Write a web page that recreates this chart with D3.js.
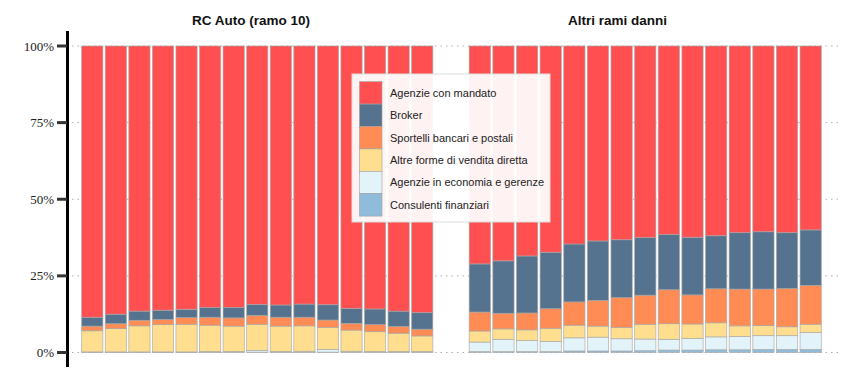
<!DOCTYPE html>
<html>
<head>
<meta charset="utf-8">
<script src="https://cdn.jsdelivr.net/npm/d3@7"></script>
<style>
  html, body { margin: 0; padding: 0; background: #fff; }
  svg { display: block; }
  .ylab { font-family: "Liberation Serif", "DejaVu Serif", serif; }
</style>
</head>
<body>
<div id="chart"></div>
<script>
// ---- Data ----
const categories = ["1","2","3","4","5","6","7","8","9","10","11","12","13","14","15"];
const seriesNames = [
  "Consulenti finanziari",
  "Agenzie in economia e gerenze",
  "Altre forme di vendita diretta",
  "Sportelli bancari e postali",
  "Broker",
  "Agenzie con mandato"
];
const seriesColors = ["#8fbcdb", "#e2f3f9", "#ffdf8f", "#ff8c55", "#55728f", "#ff4f51"];
const panelTitles = ["RC Auto (ramo 10)", "Altri rami danni"];

// RC Auto (ramo 10) — percentages per series, bottom to top
const rcConsulenti = [0.1,0.1,0.1,0.1,0.1,0.1,0.1,0.1,0.1,0.1,0.1,0.1,0.1,0.1,0.1];
const rcEconomia   = [0.1,0.1,0.1,0.1,0.1,0.2,0.2,0.6,0.2,0.3,0.9,0.3,0.2,0.2,0.2];
const rcAltre      = [6.9,7.6,8.5,8.9,9.0,8.6,8.3,8.5,8.3,8.3,7.2,6.9,6.5,6.0,5.1];
const rcSportelli  = [1.5,1.6,1.8,1.7,2.2,2.6,2.7,2.9,2.9,2.8,2.4,2.2,2.3,2.2,2.2];
const rcBroker     = [2.9,3.1,3.0,3.0,2.7,3.2,3.4,3.6,4.0,4.3,5.0,4.9,5.1,5.0,5.4];
const rcMandato    = [88.5,87.5,86.5,86.2,85.9,85.3,85.3,84.3,84.5,84.2,84.4,85.6,85.8,86.5,87.0];

// Altri rami danni
const arConsulenti = [0.3,0.3,0.3,0.3,0.5,0.5,0.5,0.6,0.8,0.8,0.9,0.9,1.0,1.0,1.0];
const arEconomia   = [3.1,4.0,3.6,3.3,4.3,4.5,4.0,3.8,3.5,3.8,4.2,4.3,4.5,4.5,5.5];
const arAltre      = [3.6,3.4,3.5,4.3,4.1,3.6,3.7,4.8,5.1,4.7,4.6,3.5,3.3,2.9,2.7];
const arSportelli  = [6.2,5.1,5.5,6.4,7.6,8.4,9.7,9.5,11.1,9.5,11.1,12.0,11.9,12.5,12.7];
const arBroker     = [15.7,17.1,18.6,18.4,18.9,19.4,18.9,18.8,18.0,18.8,17.3,18.4,18.7,18.2,18.1];
const arMandato    = [71.1,70.1,68.5,67.3,64.6,63.6,63.2,62.5,61.5,62.4,61.9,60.9,60.6,60.9,60.0];

const yTicks = [0, 25, 50, 75, 100];

// ---- Build tables ----
function buildRows(cols) {
  return categories.map((c, i) => {
    const row = { cat: c };
    seriesNames.forEach((s, k) => row[s] = cols[k][i]);
    return row;
  });
}
const panels = [
  { title: panelTitles[0], rows: buildRows([rcConsulenti, rcEconomia, rcAltre, rcSportelli, rcBroker, rcMandato]),
    range: [80.5, 434], titleX: 251 },
  { title: panelTitles[1], rows: buildRows([arConsulenti, arEconomia, arAltre, arSportelli, arBroker, arMandato]),
    range: [468, 822.5], titleX: 617.5 }
];

// ---- Layout ----
const W = 843, H = 375;
const svg = d3.select("#chart").append("svg").attr("width", W).attr("height", H);

const y = d3.scaleLinear().domain([0, 100]).range([352.5, 46]);
const color = d3.scaleOrdinal().domain(seriesNames).range(seriesColors);
const stack = d3.stack().keys(seriesNames);

// gridlines
svg.append("g").selectAll("line").data(yTicks).join("line")
  .attr("x1", 72).attr("x2", 838)
  .attr("y1", d => y(d)).attr("y2", d => y(d))
  .attr("stroke", "#b0b0b0").attr("stroke-width", 1)
  .attr("stroke-dasharray", "1.5,4");

panels.forEach(p => {
  const x = d3.scaleBand().domain(categories).range(p.range).paddingInner(0.1).paddingOuter(0.05);
  const layers = stack(p.rows.map(r => {
    const tot = d3.sum(seriesNames, s => r[s]);
    const o = { cat: r.cat };
    seriesNames.forEach(s => o[s] = r[s] / tot * 100);
    return o;
  }));
  const g = svg.append("g");
  g.selectAll("g").data(layers).join("g")
    .attr("fill", d => color(d.key))
    .selectAll("rect").data(d => d).join("rect")
    .attr("x", d => x(d.data.cat))
    .attr("width", x.bandwidth())
    .attr("y", d => y(d[1]))
    .attr("height", d => Math.max(0, y(d[0]) - y(d[1])))
    .attr("stroke", "#a8a8a8").attr("stroke-width", 0.8).attr("stroke-opacity", 0.8);

  svg.append("text")
    .attr("x", p.titleX).attr("y", 25)
    .attr("text-anchor", "middle")
    .style("font-family", "'Liberation Sans', Arial, sans-serif")
    .attr("font-weight", "bold").attr("font-size", 13.5)
    .attr("fill", "#111")
    .text(p.title);
});

// y axis
const axisG = svg.append("g");
axisG.append("line")
  .attr("x1", 67.5).attr("x2", 67.5).attr("y1", 31).attr("y2", 367)
  .attr("stroke", "#000").attr("stroke-width", 3);
axisG.selectAll("line.tick").data(yTicks).join("line").attr("class", "tick")
  .attr("x1", 57).attr("x2", 67)
  .attr("y1", d => y(d)).attr("y2", d => y(d))
  .attr("stroke", "#333").attr("stroke-width", 3);
axisG.selectAll("text").data(yTicks).join("text")
  .attr("class", "ylab")
  .attr("x", 54).attr("y", d => y(d)).attr("dy", "0.35em")
  .attr("text-anchor", "end")
  .attr("font-size", 13).attr("fill", "#222")
  .text(d => d + "%");

// legend
const legendOrder = seriesNames.slice().reverse();
const lg = svg.append("g").attr("transform", "translate(352,74)");
lg.append("rect").attr("width", 198).attr("height", 148)
  .attr("fill", "#fff").attr("fill-opacity", 0.93)
  .attr("stroke", "#dddddd").attr("stroke-width", 1);
const item = lg.selectAll("g.item").data(legendOrder).join("g").attr("class", "item")
  .attr("transform", (d, i) => `translate(7.5,${7.7 + i * 22.4})`);
item.append("rect").attr("width", 22.5).attr("height", 22.4)
  .attr("fill", d => color(d)).attr("stroke", "#a0a0a0").attr("stroke-width", 0.6);
item.append("text").attr("x", 30.5).attr("y", 11.2).attr("dy", "0.35em")
  .style("font-family", "'Liberation Sans', Arial, sans-serif")
  .attr("font-size", 11).attr("fill", "#222")
  .text(d => d);
</script>
</body>
</html>
